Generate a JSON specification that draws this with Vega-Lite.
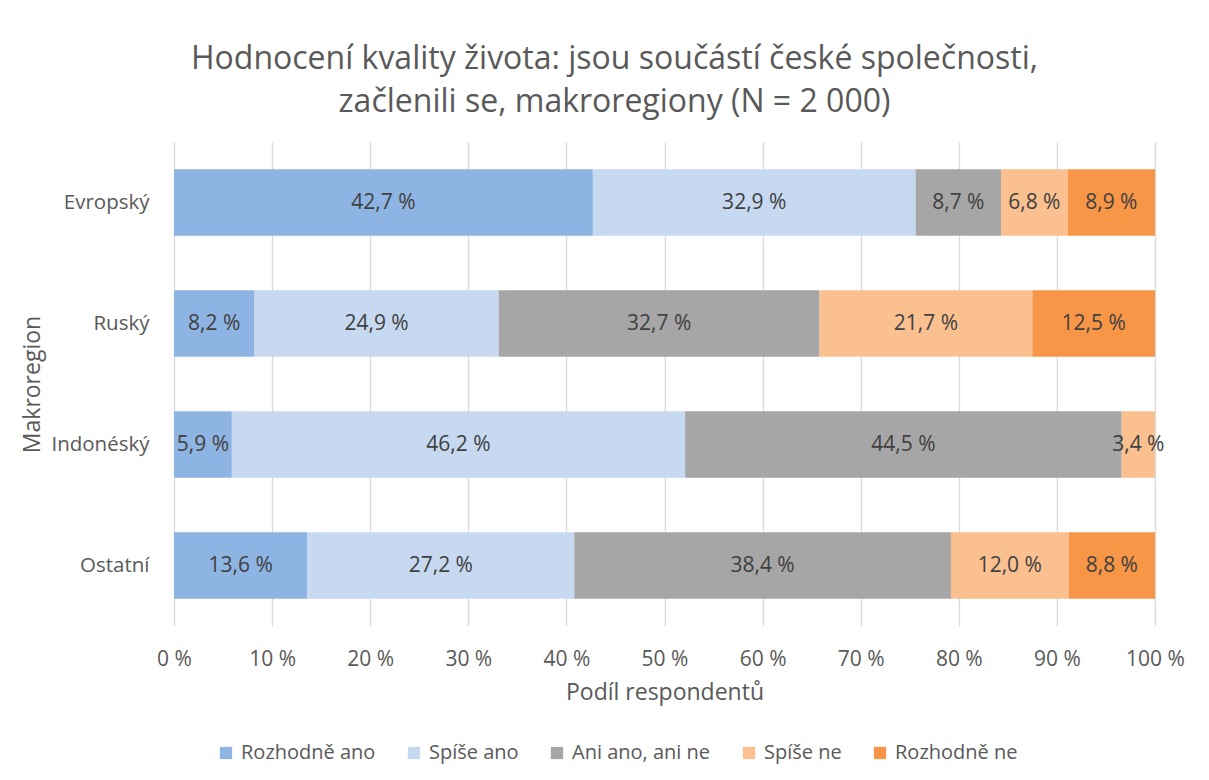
{
  "$schema": "https://vega.github.io/schema/vega-lite/v6.json",
  "width": 981,
  "height": 484,
  "autosize": {"type": "none"},
  "padding": {"left": 174, "top": 142, "right": 54, "bottom": 154},
  "background": "white",
  "title": {
    "text": ["Hodnocení kvality života: jsou součástí české společnosti,", "začlenili se, makroregiony (N = 2 000)"],
    "font": "Open Sans",
    "fontSize": 32,
    "fontWeight": "normal",
    "color": "#595959",
    "anchor": "middle",
    "dx": -50,
    "lineHeight": 43,
    "offset": 23
  },
  "data": {
    "values": [
      {"region": "Evropský", "answer": "Rozhodně ano", "k": 1, "value": 42.7},
      {"region": "Evropský", "answer": "Spíše ano", "k": 2, "value": 32.9},
      {"region": "Evropský", "answer": "Ani ano, ani ne", "k": 3, "value": 8.7},
      {"region": "Evropský", "answer": "Spíše ne", "k": 4, "value": 6.8},
      {"region": "Evropský", "answer": "Rozhodně ne", "k": 5, "value": 8.9},
      {"region": "Ruský", "answer": "Rozhodně ano", "k": 1, "value": 8.2},
      {"region": "Ruský", "answer": "Spíše ano", "k": 2, "value": 24.9},
      {"region": "Ruský", "answer": "Ani ano, ani ne", "k": 3, "value": 32.7},
      {"region": "Ruský", "answer": "Spíše ne", "k": 4, "value": 21.7},
      {"region": "Ruský", "answer": "Rozhodně ne", "k": 5, "value": 12.5},
      {"region": "Indonéský", "answer": "Rozhodně ano", "k": 1, "value": 5.9},
      {"region": "Indonéský", "answer": "Spíše ano", "k": 2, "value": 46.2},
      {"region": "Indonéský", "answer": "Ani ano, ani ne", "k": 3, "value": 44.5},
      {"region": "Indonéský", "answer": "Spíše ne", "k": 4, "value": 3.4},
      {"region": "Ostatní", "answer": "Rozhodně ano", "k": 1, "value": 13.6},
      {"region": "Ostatní", "answer": "Spíše ano", "k": 2, "value": 27.2},
      {"region": "Ostatní", "answer": "Ani ano, ani ne", "k": 3, "value": 38.4},
      {"region": "Ostatní", "answer": "Spíše ne", "k": 4, "value": 12.0},
      {"region": "Ostatní", "answer": "Rozhodně ne", "k": 5, "value": 8.8}
    ]
  },
  "transform": [
    {"stack": "value", "groupby": ["region"], "sort": [{"field": "k", "order": "ascending"}], "as": ["v0", "v1"]},
    {"calculate": "(datum.v0 + datum.v1) / 2", "as": "mid"},
    {"calculate": "replace(format(datum.value, '.1f'), '.', ',') + ' %'", "as": "lbl"}
  ],
  "encoding": {
    "y": {
      "field": "region",
      "type": "nominal",
      "sort": ["Evropský", "Ruský", "Indonéský", "Ostatní"],
      "scale": {"paddingInner": 0.45, "paddingOuter": 0.225},
      "axis": {
        "title": "Makroregion",
        "titleFont": "Open Sans",
        "titleFontSize": 23,
        "titleFontWeight": "normal",
        "titleColor": "#595959",
        "titleX": -142,
        "titleY": 242,
        "titleAngle": -90,
        "titleBaseline": "middle",
        "titleAlign": "center",
        "labelFont": "Open Sans",
        "labelFontSize": 20.5,
        "labelColor": "#595959",
        "labelPadding": 25,
        "ticks": false,
        "domain": false
      }
    }
  },
  "layer": [
    {
      "mark": {"type": "bar"},
      "encoding": {
        "x": {
          "field": "v0",
          "type": "quantitative",
          "scale": {"domain": [0, 100], "nice": false},
          "axis": {
            "title": "Podíl respondentů",
            "titleFont": "Open Sans",
            "titleFontSize": 23,
            "titleFontWeight": "normal",
            "titleColor": "#595959",
            "titleY": 66,
            "titleBaseline": "middle",
            "values": [0, 10, 20, 30, 40, 50, 60, 70, 80, 90, 100],
            "labelExpr": "datum.value + ' %'",
            "labelFlush": false,
            "labelFont": "Open Sans",
            "labelFontSize": 21,
            "labelColor": "#595959",
            "labelPadding": 22,
            "ticks": false,
            "domain": false,
            "grid": true,
            "gridColor": "#d9d9d9",
            "gridWidth": 1.3
          }
        },
        "x2": {"field": "v1"},
        "color": {
          "field": "answer",
          "type": "nominal",
          "scale": {
            "domain": ["Rozhodně ano", "Spíše ano", "Ani ano, ani ne", "Spíše ne", "Rozhodně ne"],
            "range": ["#8eb4e3", "#c6d9f1", "#a6a6a6", "#fac090", "#f79646"]
          },
          "legend": {
            "title": null,
            "orient": "none",
            "direction": "horizontal",
            "legendX": 42,
            "legendY": 601,
            "padding": 0,
            "symbolType": "square",
            "symbolSize": 150,
            "symbolStrokeWidth": 0,
            "symbolOpacity": 1,
            "labelFont": "Open Sans",
            "labelFontSize": 20,
            "labelColor": "#595959",
            "labelOffset": 5,
            "columnPadding": 28
          }
        }
      }
    },
    {
      "mark": {"type": "text", "font": "Open Sans", "fontSize": 21, "color": "#404040", "baseline": "middle", "align": "center"},
      "encoding": {
        "x": {"field": "mid", "type": "quantitative"},
        "text": {"field": "lbl", "type": "nominal"}
      }
    }
  ],
  "config": {
    "view": {"stroke": null}
  }
}
